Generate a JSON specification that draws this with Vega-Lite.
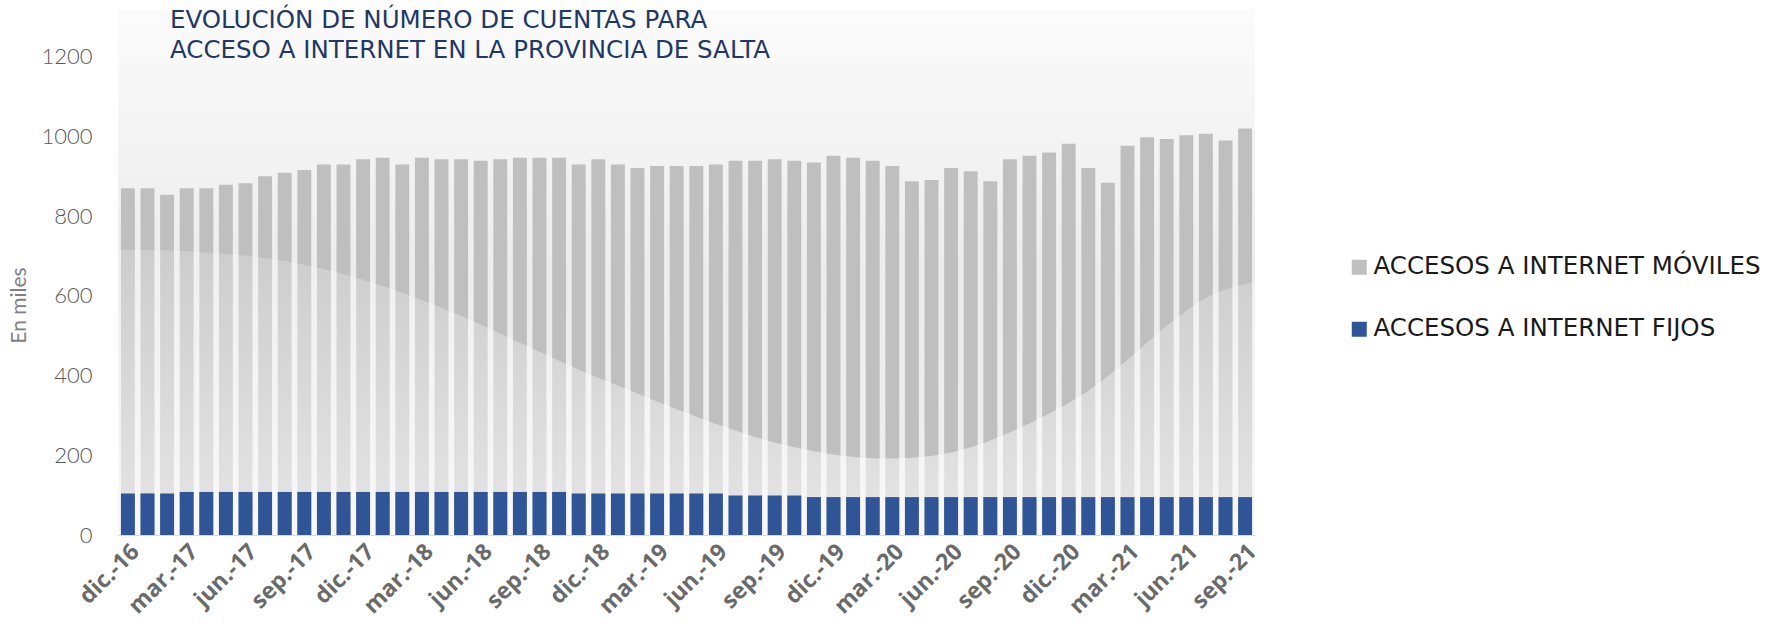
{
  "$schema": "https://vega.github.io/schema/vega-lite/v6.json",
  "width": 1137,
  "height": 526,
  "autosize": {"type": "none"},
  "padding": {"left": 118, "top": 9, "right": 518, "bottom": 93},
  "background": "#ffffff",
  "title": {
    "text": ["EVOLUCIÓN DE NÚMERO DE CUENTAS PARA", "ACCESO A INTERNET EN LA PROVINCIA DE SALTA"],
    "anchor": "start",
    "frame": "group",
    "orient": "top",
    "baseline": "top",
    "dx": 52,
    "dy": 54,
    "offset": 0,
    "font": "DejaVu Sans",
    "fontSize": 24.5,
    "fontWeight": "normal",
    "color": "#1f3864",
    "lineHeight": 30
  },
  "config": {
    "view": {
      "stroke": null,
      "fill": {
        "gradient": "linear", "x1": 0, "y1": 0, "x2": 0, "y2": 1,
        "stops": [
          {"offset": 0, "color": "#fbfbfb"},
          {"offset": 0.5, "color": "#ececec"},
          {"offset": 1, "color": "#eeeeee"}
        ]
      }
    }
  },
  "data": {
    "values": [
      {"mes": "dic.-16", "fijos": 104, "moviles": 766},
      {"mes": "ene.-17", "fijos": 104, "moviles": 766},
      {"mes": "feb.-17", "fijos": 104, "moviles": 750},
      {"mes": "mar.-17", "fijos": 108, "moviles": 762},
      {"mes": "abr.-17", "fijos": 108, "moviles": 762},
      {"mes": "may.-17", "fijos": 108, "moviles": 771},
      {"mes": "jun.-17", "fijos": 108, "moviles": 775},
      {"mes": "jul.-17", "fijos": 108, "moviles": 792},
      {"mes": "ago.-17", "fijos": 108, "moviles": 801},
      {"mes": "sep.-17", "fijos": 108, "moviles": 808},
      {"mes": "oct.-17", "fijos": 108, "moviles": 822},
      {"mes": "nov.-17", "fijos": 108, "moviles": 822},
      {"mes": "dic.-17", "fijos": 108, "moviles": 835},
      {"mes": "ene.-18", "fijos": 108, "moviles": 839},
      {"mes": "feb.-18", "fijos": 108, "moviles": 822},
      {"mes": "mar.-18", "fijos": 108, "moviles": 839},
      {"mes": "abr.-18", "fijos": 108, "moviles": 835},
      {"mes": "may.-18", "fijos": 108, "moviles": 835},
      {"mes": "jun.-18", "fijos": 108, "moviles": 831},
      {"mes": "jul.-18", "fijos": 108, "moviles": 835},
      {"mes": "ago.-18", "fijos": 108, "moviles": 839},
      {"mes": "sep.-18", "fijos": 108, "moviles": 839},
      {"mes": "oct.-18", "fijos": 108, "moviles": 839},
      {"mes": "nov.-18", "fijos": 104, "moviles": 826},
      {"mes": "dic.-18", "fijos": 104, "moviles": 839},
      {"mes": "ene.-19", "fijos": 104, "moviles": 826},
      {"mes": "feb.-19", "fijos": 104, "moviles": 817},
      {"mes": "mar.-19", "fijos": 104, "moviles": 822},
      {"mes": "abr.-19", "fijos": 104, "moviles": 822},
      {"mes": "may.-19", "fijos": 104, "moviles": 822},
      {"mes": "jun.-19", "fijos": 104, "moviles": 826},
      {"mes": "jul.-19", "fijos": 99, "moviles": 840},
      {"mes": "ago.-19", "fijos": 99, "moviles": 840},
      {"mes": "sep.-19", "fijos": 99, "moviles": 844},
      {"mes": "oct.-19", "fijos": 99, "moviles": 840},
      {"mes": "nov.-19", "fijos": 95, "moviles": 840},
      {"mes": "dic.-19", "fijos": 95, "moviles": 857},
      {"mes": "ene.-20", "fijos": 95, "moviles": 852},
      {"mes": "feb.-20", "fijos": 95, "moviles": 844},
      {"mes": "mar.-20", "fijos": 95, "moviles": 831},
      {"mes": "abr.-20", "fijos": 95, "moviles": 793},
      {"mes": "may.-20", "fijos": 95, "moviles": 796},
      {"mes": "jun.-20", "fijos": 95, "moviles": 826},
      {"mes": "jul.-20", "fijos": 95, "moviles": 818},
      {"mes": "ago.-20", "fijos": 95, "moviles": 793},
      {"mes": "sep.-20", "fijos": 95, "moviles": 848},
      {"mes": "oct.-20", "fijos": 95, "moviles": 857},
      {"mes": "nov.-20", "fijos": 95, "moviles": 865},
      {"mes": "dic.-20", "fijos": 95, "moviles": 887},
      {"mes": "ene.-21", "fijos": 95, "moviles": 826},
      {"mes": "feb.-21", "fijos": 95, "moviles": 789},
      {"mes": "mar.-21", "fijos": 95, "moviles": 882},
      {"mes": "abr.-21", "fijos": 95, "moviles": 903},
      {"mes": "may.-21", "fijos": 95, "moviles": 899},
      {"mes": "jun.-21", "fijos": 95, "moviles": 908},
      {"mes": "jul.-21", "fijos": 95, "moviles": 912},
      {"mes": "ago.-21", "fijos": 95, "moviles": 895},
      {"mes": "sep.-21", "fijos": 95, "moviles": 925}
    ]
  },
  "resolve": {"scale": {"x": "independent"}},
  "layer": [
    {
      "transform": [{"fold": ["moviles", "fijos"], "as": ["serie", "valor"]}],
      "mark": {"type": "bar"},
      "encoding": {
        "x": {
          "field": "mes", "type": "ordinal", "sort": null,
          "scale": {"paddingInner": 0.29, "paddingOuter": 0.15},
          "axis": {
            "values": ["dic.-16", "mar.-17", "jun.-17", "sep.-17", "dic.-17", "mar.-18", "jun.-18", "sep.-18", "dic.-18", "mar.-19", "jun.-19", "sep.-19", "dic.-19", "mar.-20", "jun.-20", "sep.-20", "dic.-20", "mar.-21", "jun.-21", "sep.-21"],
            "labelAngle": -45,
            "labelFont": "Open Sans",
            "labelFontWeight": "bold",
            "labelFontSize": 23,
            "labelColor": "#6a6a6a",
            "labelPadding": 5,
            "ticks": false,
            "domain": true,
            "domainColor": "#d9d9d9",
            "title": null,
            "grid": false
          }
        },
        "y": {
          "field": "valor", "type": "quantitative", "stack": "zero",
          "scale": {"domain": [0, 1320], "nice": false},
          "axis": {
            "values": [0, 200, 400, 600, 800, 1000, 1200],
            "format": "d",
            "title": "En miles",
            "titleFont": "Lato",
            "titleFontSize": 21,
            "titleFontWeight": "normal",
            "titleColor": "#7f7f7f",
            "titleX": -99,
            "titleY": 296,
            "titleAngle": -90,
            "titleAlign": "center",
            "titleBaseline": "middle",
            "labelFont": "Lato",
            "labelFontSize": 22,
            "labelFontWeight": 300,
            "labelColor": "#595959",
            "labelPadding": 26,
            "ticks": false,
            "domain": false,
            "grid": false
          }
        },
        "color": {
          "field": "serie", "type": "nominal",
          "scale": {"domain": ["moviles", "fijos"], "range": ["#bfbfbf", "#2f5597"]},
          "legend": {
            "orient": "none",
            "legendX": 1229,
            "legendY": 246,
            "title": null,
            "symbolType": "square",
            "symbolSize": 225,
            "symbolStrokeWidth": 0,
            "labelFont": "DejaVu Sans",
            "labelFontSize": 24.5,
            "labelColor": "#1a1a1a",
            "labelOffset": 2,
            "labelLimit": 0,
            "rowPadding": 37,
            "labelExpr": "datum.value == 'moviles' ? 'ACCESOS A INTERNET MÓVILES' : 'ACCESOS A INTERNET FIJOS'"
          }
        },
        "order": {"field": "serie", "sort": "ascending"}
      }
    },
    {
      "data": {
        "values": [
          {"pos": 0.5, "v": 715},
          {"pos": 2, "v": 715},
          {"pos": 4, "v": 712},
          {"pos": 6, "v": 705},
          {"pos": 8, "v": 695},
          {"pos": 10, "v": 678},
          {"pos": 12, "v": 655},
          {"pos": 14, "v": 625},
          {"pos": 16, "v": 590},
          {"pos": 18, "v": 550},
          {"pos": 20, "v": 505},
          {"pos": 22, "v": 460},
          {"pos": 24, "v": 415},
          {"pos": 26, "v": 375},
          {"pos": 28, "v": 335},
          {"pos": 30, "v": 297},
          {"pos": 32, "v": 262},
          {"pos": 34, "v": 232},
          {"pos": 36, "v": 210},
          {"pos": 38, "v": 196},
          {"pos": 40, "v": 192},
          {"pos": 42, "v": 198},
          {"pos": 44, "v": 220},
          {"pos": 46, "v": 258},
          {"pos": 48, "v": 305},
          {"pos": 50, "v": 362},
          {"pos": 52, "v": 440},
          {"pos": 54, "v": 525},
          {"pos": 56, "v": 595},
          {"pos": 58.5, "v": 635}
        ]
      },
      "mark": {
        "type": "area",
        "interpolate": "monotone",
        "fill": {
          "gradient": "linear", "x1": 0, "y1": 0, "x2": 0, "y2": 1,
          "stops": [
            {"offset": 0, "color": "rgba(255,255,255,0.22)"},
            {"offset": 1, "color": "rgba(255,255,255,0.6)"}
          ]
        }
      },
      "encoding": {
        "x": {"field": "pos", "type": "quantitative", "scale": {"domain": [0.5, 58.5], "nice": false, "zero": false}, "axis": null},
        "y": {"field": "v", "type": "quantitative"}
      }
    },
    {
      "mark": {"type": "bar", "color": "#2f5597"},
      "encoding": {
        "x": {"field": "mes", "type": "ordinal", "sort": null, "scale": {"paddingInner": 0.29, "paddingOuter": 0.15}, "axis": null},
        "y": {"field": "fijos", "type": "quantitative"}
      }
    }
  ]
}
